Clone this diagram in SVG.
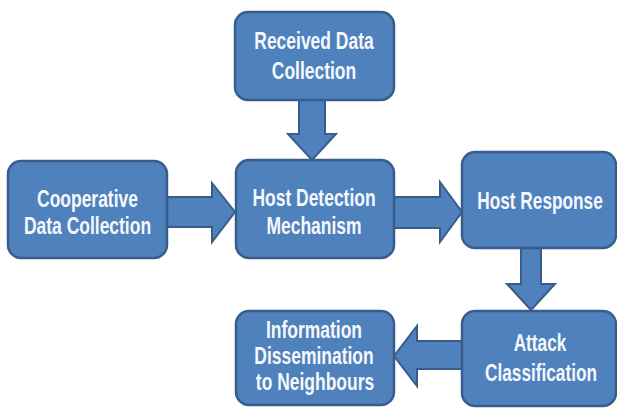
<svg xmlns="http://www.w3.org/2000/svg" width="617" height="408" viewBox="0 0 617 408">
<style>
.box{fill:#4F81BD;stroke:#385D8A;stroke-width:2.5}
.arr{fill:#4F81BD;stroke:#385D8A;stroke-width:2;stroke-linejoin:miter}
.t{font-family:"Liberation Sans",Arial,sans-serif;font-weight:bold;font-size:23px;fill:#F5F8FC;text-anchor:middle}
</style>
<rect width="617" height="408" fill="#FFFFFF"/>
<g id="connectors">
<polygon class="arr" points="299,99 325,99 325,134 336,134 312,160 288,134 299,134"/>
<polygon class="arr" points="166,197 212,197 212,183 235,212 212,242 212,227 166,227"/>
<polygon class="arr" points="393,197 440,197 440,182 462,212 440,242 440,228 393,228"/>
<polygon class="arr" points="521,247 541,247 541,284 555,284 531,310 507,284 521,284"/>
<polygon class="arr" points="463,341 417,341 417,326 394,356 417,386 417,369 463,369"/>
</g>
<g id="node-received">
<rect class="box" x="235" y="12" width="159" height="88" rx="13"/>
<text class="t" transform="translate(314,49) scale(0.76,1)">Received Data</text>
<text class="t" transform="translate(314,79) scale(0.76,1)">Collection</text>
</g>
<g id="node-cooperative">
<rect class="box" x="8" y="161" width="159" height="97" rx="13"/>
<text class="t" transform="translate(87.5,207) scale(0.76,1)">Cooperative</text>
<text class="t" transform="translate(87.5,234) scale(0.76,1)">Data Collection</text>
</g>
<g id="node-detection">
<rect class="box" x="236" y="160" width="158" height="98" rx="13"/>
<text class="t" transform="translate(314,206) scale(0.76,1)">Host Detection</text>
<text class="t" transform="translate(314,234) scale(0.76,1)">Mechanism</text>
</g>
<g id="node-response">
<rect class="box" x="462" y="152" width="154" height="96" rx="13"/>
<text class="t" transform="translate(540,209) scale(0.75,1)">Host Response</text>
</g>
<g id="node-attack">
<rect class="box" x="462" y="311" width="154" height="95" rx="13"/>
<text class="t" transform="translate(540,351) scale(0.75,1)">Attack</text>
<text class="t" transform="translate(541,381) scale(0.75,1)">Classification</text>
</g>
<g id="node-info">
<rect class="box" x="236" y="311" width="158" height="94" rx="13"/>
<text class="t" transform="translate(314,338) scale(0.76,1)">Information</text>
<text class="t" transform="translate(314,364) scale(0.76,1)">Dissemination</text>
<text class="t" transform="translate(315,390) scale(0.76,1)">to Neighbours</text>
</g>
</svg>
